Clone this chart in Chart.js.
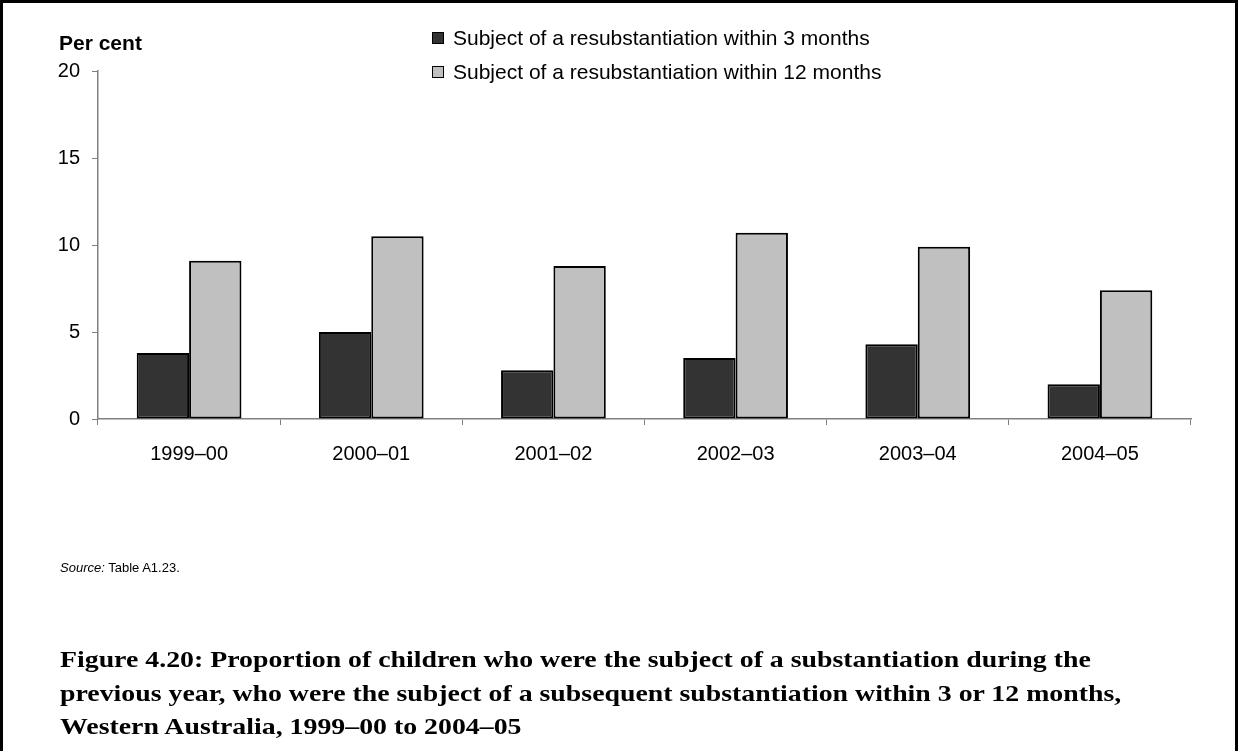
<!DOCTYPE html>
<html>
<head>
<meta charset="utf-8">
<script src="https://cdn.jsdelivr.net/npm/chart.js@4.4.1/dist/chart.umd.min.js"></script>
<style>
  html, body { margin: 0; padding: 0; background: #fff; }
  #frame { position: relative; width: 1238px; height: 751px; box-sizing: border-box;
           border-left: 3px solid #000; border-top: 3px solid #000; border-right: 3px solid #000;
           overflow: hidden; font-family: "Liberation Sans", Arial, sans-serif; }
  #wrap { position: absolute; left: -3px; top: -3px; width: 1238px; height: 751px; }
  #ylabel { position: absolute; left: 56px; top: 28px; font-weight: bold; font-size: 21px; color: #000; }
  #legend { position: absolute; left: 429px; top: 23px; }
  .li { position: relative; height: 34px; font-size: 21px; color: #000; white-space: nowrap; }
  .sw { position: absolute; left: 0; top: 6px; width: 10px; height: 10px; border: 1px solid #000; }
  .lt { position: absolute; left: 21px; top: 0; line-height: 23px; }
  #source { position: absolute; left: 57px; top: 557px; font-size: 13px; color: #000; }
  #caption { position: absolute; left: 57px; top: 640px; font-family: "Liberation Serif", "Times New Roman", serif;
             font-weight: bold; font-size: 23px; line-height: 33.5px; color: #000; white-space: nowrap;
             transform: scaleX(1.21); transform-origin: 0 0; }
</style>
</head>
<body>
<div id="frame">
  <div id="wrap"><canvas id="c" width="1238" height="751"></canvas></div>
  <div id="ylabel">Per cent</div>
  <div id="legend"></div>
  <div id="source"><i>Source:</i> Table A1.23.</div>
  <div id="caption">Figure 4.20: Proportion of children who were the subject of a substantiation during the<br>previous year, who were the subject of a subsequent substantiation within 3 or 12 months,<br>Western Australia, 1999–00 to 2004–05</div>
</div>
<script>
const categories = ["1999–00", "2000–01", "2001–02", "2002–03", "2003–04", "2004–05"];
const within3Months = [3.8, 5.0, 2.8, 3.5, 4.3, 2.0];
const within12Months = [9.1, 10.5, 8.8, 10.7, 9.9, 7.4];
const seriesLabels = ["Subject of a resubstantiation within 3 months", "Subject of a resubstantiation within 12 months"];
const yTicks = [0, 5, 10, 15, 20];

const colors = ["#333333", "#c0c0c0"];
const datasets = [within3Months, within12Months].map((d, i) => ({
  label: seriesLabels[i],
  data: d,
  backgroundColor: colors[i],
  borderColor: "#000",
  borderWidth: 2,
  borderSkipped: false,
  barPercentage: 1.0,
  categoryPercentage: 0.575
}));

const legend = document.getElementById("legend");
datasets.forEach(ds => {
  const li = document.createElement("div"); li.className = "li";
  const sw = document.createElement("div"); sw.className = "sw"; sw.style.background = ds.backgroundColor;
  const t = document.createElement("div"); t.className = "lt"; t.textContent = ds.label;
  li.appendChild(sw); li.appendChild(t); legend.appendChild(li);
});

const font = { family: "'Liberation Sans', Arial, sans-serif", size: 20 };
new Chart(document.getElementById("c"), {
  type: "bar",
  data: { labels: categories, datasets },
  options: {
    responsive: false,
    animation: false,
    events: [],
    layout: { padding: { left: 0, top: 71, right: 47, bottom: 0 } },
    plugins: { legend: { display: false }, tooltip: { enabled: false } },
    scales: {
      x: {
        grid: { display: true, drawOnChartArea: false, offset: true, tickLength: 6, color: "#808080", lineWidth: 1 },
        border: { display: true, color: "#808080", width: 1.5 },
        ticks: { color: "#000", font, padding: 17, maxRotation: 0 },
        afterFit(s) { s.height = 332; }
      },
      y: {
        min: 0, max: 20,
        afterBuildTicks(s) { s.ticks = yTicks.map(v => ({ value: v })); },
        grid: { display: true, drawOnChartArea: false, tickLength: 6, color: "#808080", lineWidth: 1 },
        border: { display: true, color: "#808080", width: 1.5 },
        ticks: { color: "#000", font, padding: 12 },
        afterFit(s) { s.width = 98; }
      }
    }
  }
});
</script>
</body>
</html>
